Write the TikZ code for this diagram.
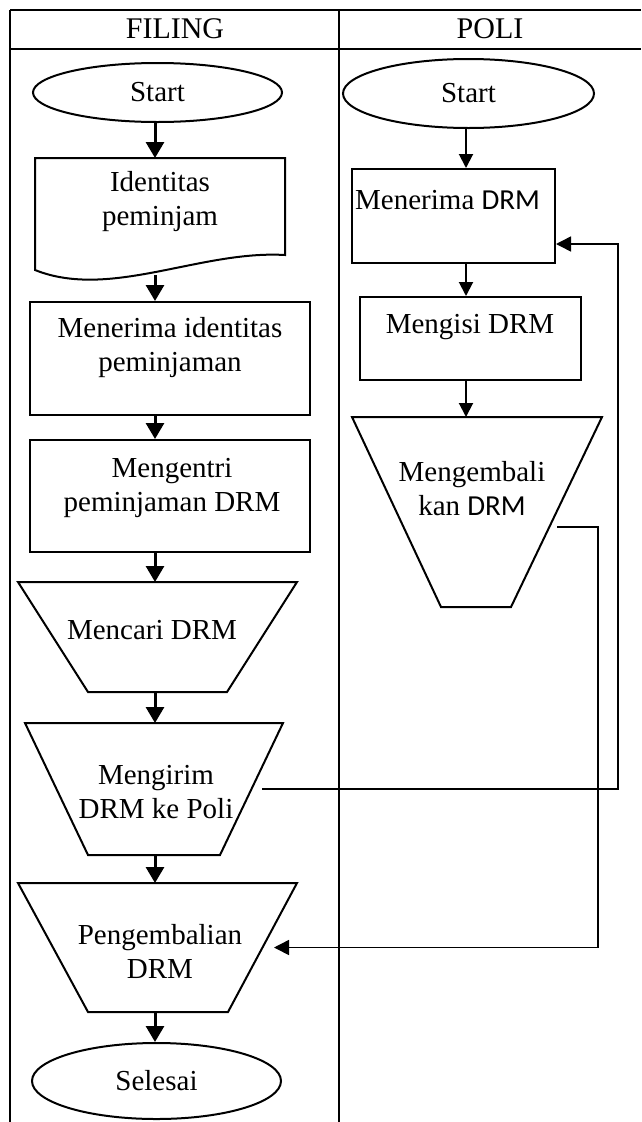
\documentclass[tikz,border=0pt]{standalone}
\usepackage{fontspec}
\setmainfont{Liberation Serif}
\newfontfamily\calfont{Carlito}
\usetikzlibrary{shapes.geometric,arrows.meta}
\begin{document}
\begin{tikzpicture}[x=1pt,y=-1pt,
  font=\fontsize{29}{34}\selectfont,
  frame/.style={line width=2pt},
  outline/.style={line width=2pt,line join=miter},
  box/.style={draw,line width=2pt,rectangle,inner sep=0pt},
  term/.style={draw,line width=2pt,ellipse,inner sep=0pt},
  ghost/.style={rectangle,inner sep=0pt,outer sep=0pt},
  lbl/.style={align=center,inner sep=0pt},
  flowL/.style={line width=3pt,-{Triangle[width=18pt,length=16pt]}},
  flowR/.style={line width=2pt,-{Triangle[width=14pt,length=14pt]}},
  link/.style={line width=1.5pt,-{Triangle[width=15pt,length=15pt]}},
]
\useasboundingbox (0,0) rectangle (641,1122);

% table frame
\draw[frame] (10,10) -- (641,10);
\draw[frame] (10,49) -- (641,49);
\draw[frame] (10,10) -- (10,1122);
\draw[frame] (339,10) -- (339,1122);
\node[font=\fontsize{30}{34}\selectfont] (hfiling) at (175,29) {FILING};
\node[font=\fontsize{30}{34}\selectfont] (hpoli) at (490,29) {POLI};

% lanes for the vertical flow arrows
\coordinate (laneL) at (155,0);
\coordinate (laneR) at (466,0);

% FILING column
\node[term,minimum width=249pt,minimum height=59pt] (startL) at (157.5,92.5) {Start};

\node[ghost,minimum width=250pt,minimum height=117pt] (doc) at (160,216.5) {};
\draw[outline] (35,158) -- (285,158) -- (285,255)
  .. controls (200,250) and (110,300) .. (35,270) -- cycle;
\node[lbl] (doct) at (160,202) {Identitas\\peminjam};

\node[box,minimum width=280pt,minimum height=113pt] (terimaid) at (170,358.5) {};
\node[lbl] (terimaidt) at (170,348) {Menerima identitas\\peminjaman};

\node[box,minimum width=280pt,minimum height=112pt] (entri) at (170,496) {};
\node[lbl] (entrit) at (172,488) {Mengentri\\peminjaman DRM};

% manual operations (trapezoids, wide side on top)
\node[ghost,minimum width=279pt,minimum height=110pt] (cari) at (157.5,637) {};
\draw[outline] (cari.north west) -- (cari.north east) -- ([xshift=-70pt]cari.south east)
  -- ([xshift=70pt]cari.south west) -- cycle;
\node[lbl] (carit) at (152,630) {Mencari DRM};

\node[ghost,minimum width=258pt,minimum height=132pt] (kirim) at (154,789) {};
\draw[outline] (kirim.north west) -- (kirim.north east) -- ([xshift=-63pt]kirim.south east)
  -- ([xshift=63pt]kirim.south west) -- cycle;
\node[lbl] (kirimt) at (156,792) {Mengirim\\DRM ke Poli};

\node[ghost,minimum width=279pt,minimum height=129pt] (balik) at (157.5,947.5) {};
\draw[outline] (balik.north west) -- (balik.north east) -- ([xshift=-69pt]balik.south east)
  -- ([xshift=70pt]balik.south west) -- cycle;
\node[lbl] (balikt) at (160,951) {Pengembalian\\DRM};

\node[term,minimum width=249pt,minimum height=76pt] (selesai) at (156.5,1081) {Selesai};

% POLI column
\node[term,minimum width=251pt,minimum height=69pt] (startR) at (468.5,93.5) {Start};

\node[box,minimum width=203pt,minimum height=94pt] (terima) at (453.5,216) {};
\node[lbl,anchor=west] (terimat) at (355,200) {Menerima {\calfont DRM}};

\node[box,minimum width=221pt,minimum height=83pt] (isi) at (470.5,338.5) {};
\node[lbl] (isit) at (470,327) {Mengisi DRM};

\node[ghost,minimum width=250pt,minimum height=190pt] (kembali) at (477,512) {};
\draw[outline] (kembali.north west) -- (kembali.north east) -- ([xshift=-91pt]kembali.south east)
  -- ([xshift=89pt]kembali.south west) -- cycle;
\node[lbl] (kembalit) at (472,489) {Mengembali\\kan {\calfont DRM}};

% flow arrows, FILING
\draw[flowL] (startL.south -| laneL) -- (doc.north -| laneL);
\draw[flowL] (doc.south -| laneL) -- (terimaid.north -| laneL);
\draw[flowL] (terimaid.south -| laneL) -- (entri.north -| laneL);
\draw[flowL] (entri.south -| laneL) -- (cari.north -| laneL);
\draw[flowL] (cari.south -| laneL) -- (kirim.north -| laneL);
\draw[flowL] (kirim.south -| laneL) -- (balik.north -| laneL);
\draw[flowL] (balik.south -| laneL) -- (selesai.north -| laneL);

% flow arrows, POLI
\draw[flowR] (startR.south -| laneR) -- (terima.north -| laneR);
\draw[flowR] (terima.south -| laneR) -- (isi.north -| laneR);
\draw[flowR] (isi.south -| laneR) -- (kembali.north -| laneR);

% links between the two columns
\coordinate (kirimrail) at (618,500);
\coordinate (balikrail) at (598,700);
\draw[link] ([xshift=-21pt]kirim.east) -| (kirimrail) |- ([yshift=-28pt]terima.east);
\draw[link] ([xshift=-45pt,yshift=-15pt]kembali.east) -| (balikrail) |- ([xshift=-23pt]balik.east);
\end{tikzpicture}
\end{document}
